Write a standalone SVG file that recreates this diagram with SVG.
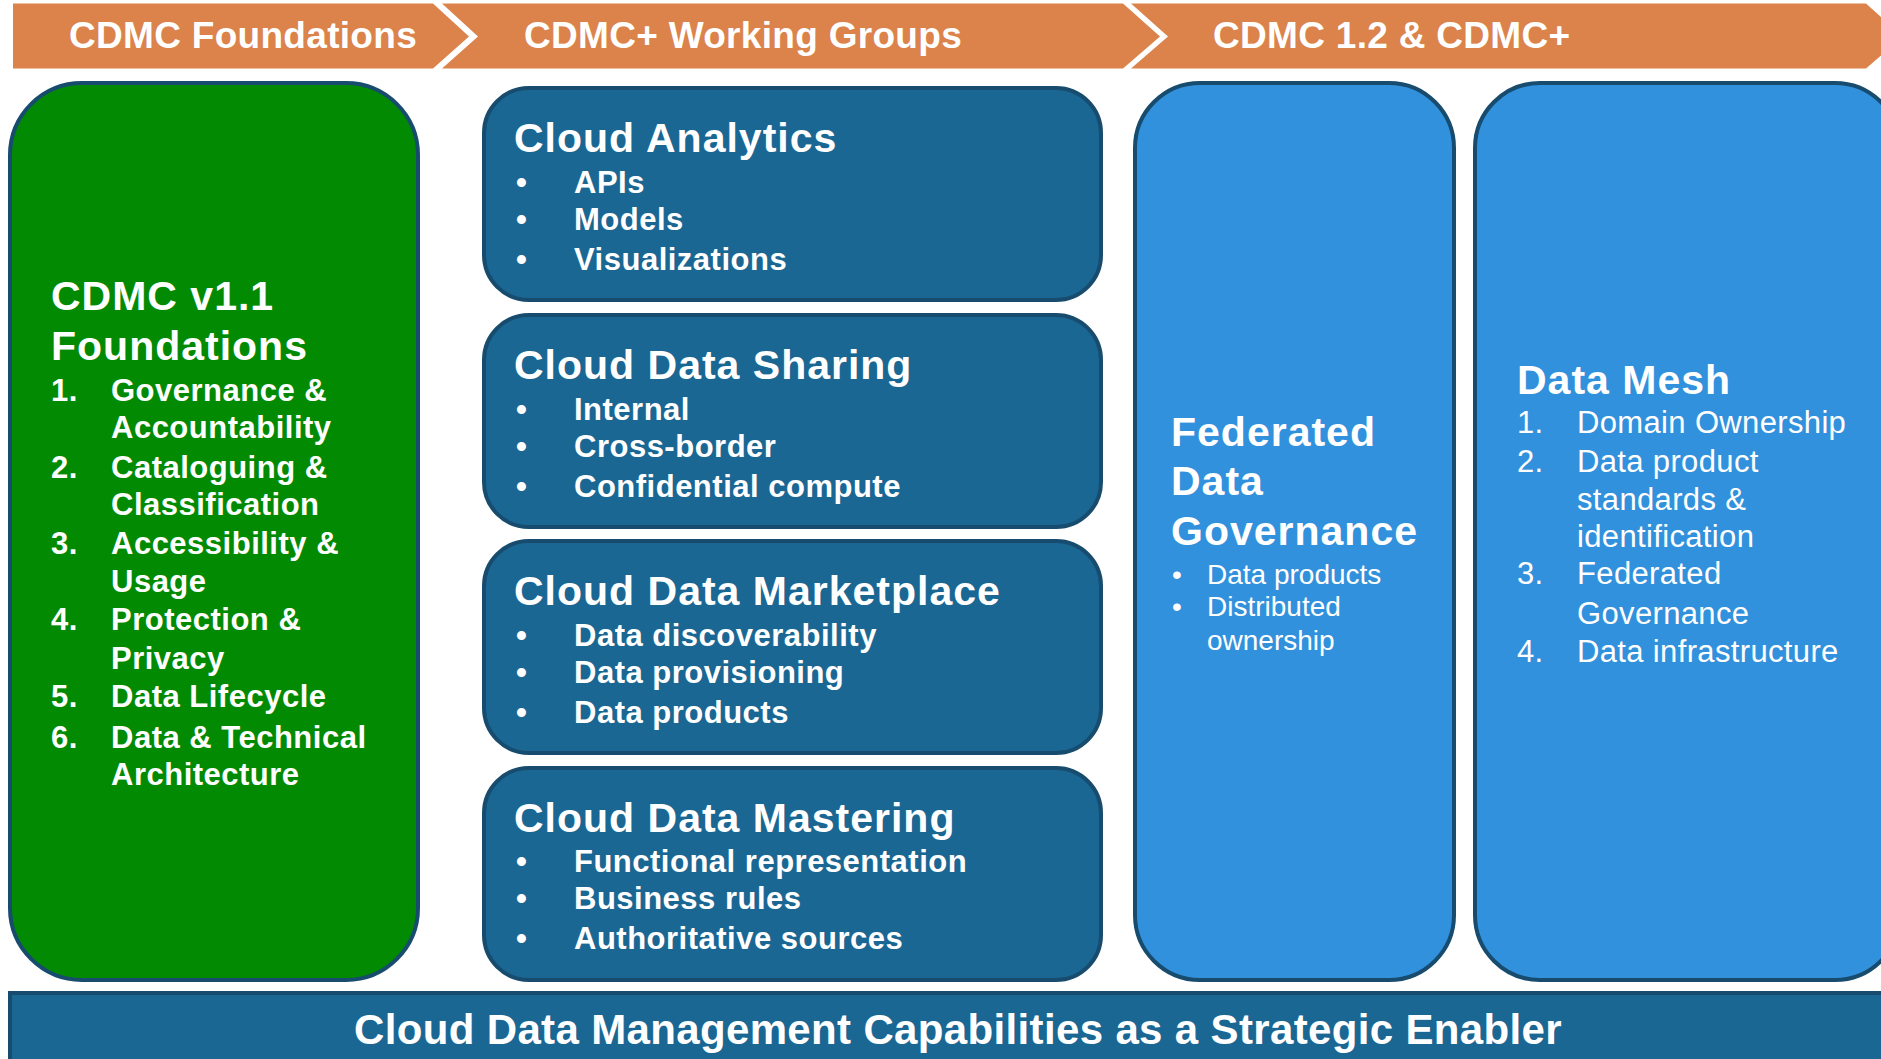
<svg xmlns="http://www.w3.org/2000/svg" width="1881" height="1059" viewBox="0 0 1881 1059">
<style>
text{font-family:"Liberation Sans",Arial,Helvetica,sans-serif;fill:#ffffff;}
.band{fill:#DB834B;}
.bt{font-size:37px;font-weight:bold;letter-spacing:0.3px;}
.green{fill:#038A03;stroke:#174C6E;stroke-width:4;}
.dark{fill:#1B6794;stroke:#174C6E;stroke-width:4;}
.light{fill:#3291DC;stroke:#174C6E;stroke-width:4;}
.title{font-size:41px;font-weight:bold;letter-spacing:1px;}
.item{font-size:31px;font-weight:bold;letter-spacing:0.5px;}
.reg{font-size:31px;letter-spacing:0.35px;}
.reg28{font-size:28px;}
.foot{font-size:42px;font-weight:bold;letter-spacing:0.35px;}
</style>
<rect x="0" y="0" width="1881" height="1059" fill="#ffffff"/>
<g id="banner">
<polygon class="band" points="13,3.5 433,3.5 469,36.5 433,68.5 13,68.5"/>
<polygon class="band" points="442,3.5 1123,3.5 1160,36.5 1123,68.5 442,68.5 478,36.5"/>
<polygon class="band" points="1131,3.5 1866,3.5 1903,36.5 1866,68.5 1131,68.5 1168,36.5"/>
<text class="bt" x="69" y="48">CDMC Foundations</text>
<text class="bt" x="524" y="48">CDMC+ Working Groups</text>
<text class="bt" x="1213" y="48">CDMC 1.2 &amp; CDMC+</text>
</g>
<g id="foundations">
<rect class="green" x="10" y="83" width="408" height="897" rx="72" ry="72"/>
<text class="title" x="51" y="310">CDMC v1.1</text>
<text class="title" x="51" y="360">Foundations</text>
<g class="item">
<text x="51" y="401">1.</text><text x="111" y="401">Governance &amp;</text>
<text x="111" y="438">Accountability</text>
<text x="51" y="478">2.</text><text x="111" y="478">Cataloguing &amp;</text>
<text x="111" y="515">Classification</text>
<text x="51" y="554">3.</text><text x="111" y="554">Accessibility &amp;</text>
<text x="111" y="592">Usage</text>
<text x="51" y="630">4.</text><text x="111" y="630">Protection &amp;</text>
<text x="111" y="669">Privacy</text>
<text x="51" y="707">5.</text><text x="111" y="707">Data Lifecycle</text>
<text x="51" y="748">6.</text><text x="111" y="748">Data &amp; Technical</text>
<text x="111" y="785">Architecture</text>
</g>
</g>
<g id="cloud-analytics">
<rect class="dark" x="484" y="88" width="617" height="212" rx="45" ry="45"/>
<text class="title" x="514" y="152">Cloud Analytics</text>
<g class="item">
<text x="516" y="193">•</text><text x="574" y="193">APIs</text>
<text x="516" y="230">•</text><text x="574" y="230">Models</text>
<text x="516" y="270">•</text><text x="574" y="270">Visualizations</text>
</g>
</g>
<g id="cloud-data-sharing">
<rect class="dark" x="484" y="315" width="617" height="212" rx="45" ry="45"/>
<text class="title" x="514" y="379">Cloud Data Sharing</text>
<g class="item">
<text x="516" y="420">•</text><text x="574" y="420">Internal</text>
<text x="516" y="457">•</text><text x="574" y="457">Cross-border</text>
<text x="516" y="497">•</text><text x="574" y="497">Confidential compute</text>
</g>
</g>
<g id="cloud-data-marketplace">
<rect class="dark" x="484" y="541" width="617" height="212" rx="45" ry="45"/>
<text class="title" x="514" y="605">Cloud Data Marketplace</text>
<g class="item">
<text x="516" y="646">•</text><text x="574" y="646">Data discoverability</text>
<text x="516" y="683">•</text><text x="574" y="683">Data provisioning</text>
<text x="516" y="723">•</text><text x="574" y="723">Data products</text>
</g>
</g>
<g id="cloud-data-mastering">
<rect class="dark" x="484" y="768" width="617" height="212" rx="45" ry="45"/>
<text class="title" x="514" y="832">Cloud Data Mastering</text>
<g class="item">
<text x="516" y="872">•</text><text x="574" y="872">Functional representation</text>
<text x="516" y="909">•</text><text x="574" y="909">Business rules</text>
<text x="516" y="949">•</text><text x="574" y="949">Authoritative sources</text>
</g>
</g>
<g id="federated-data-governance">
<rect class="light" x="1135" y="83" width="319" height="897" rx="65" ry="65"/>
<text class="title" x="1171" y="446">Federated</text>
<text class="title" x="1171" y="495">Data</text>
<text class="title" x="1171" y="545">Governance</text>
<g class="reg28">
<text x="1172" y="584">•</text><text x="1207" y="584">Data products</text>
<text x="1172" y="616">•</text><text x="1207" y="616">Distributed</text>
<text x="1207" y="650">ownership</text>
</g>
</g>
<g id="data-mesh">
<rect class="light" x="1475" y="83" width="425" height="897" rx="65" ry="65"/>
<text class="title" x="1517" y="394">Data Mesh</text>
<g class="reg">
<text x="1517" y="433">1.</text><text x="1577" y="433">Domain Ownership</text>
<text x="1517" y="472">2.</text><text x="1577" y="472">Data product</text>
<text x="1577" y="510">standards &amp;</text>
<text x="1577" y="547">identification</text>
<text x="1517" y="584">3.</text><text x="1577" y="584">Federated</text>
<text x="1577" y="624">Governance</text>
<text x="1517" y="662">4.</text><text x="1577" y="662">Data infrastructure</text>
</g>
</g>
<g id="strategic-enabler">
<rect class="dark" x="10" y="993" width="1900" height="80"/>
<text class="foot" x="354" y="1044">Cloud Data Management Capabilities as a Strategic Enabler</text>
</g>
<g id="connectors"></g>
</svg>
